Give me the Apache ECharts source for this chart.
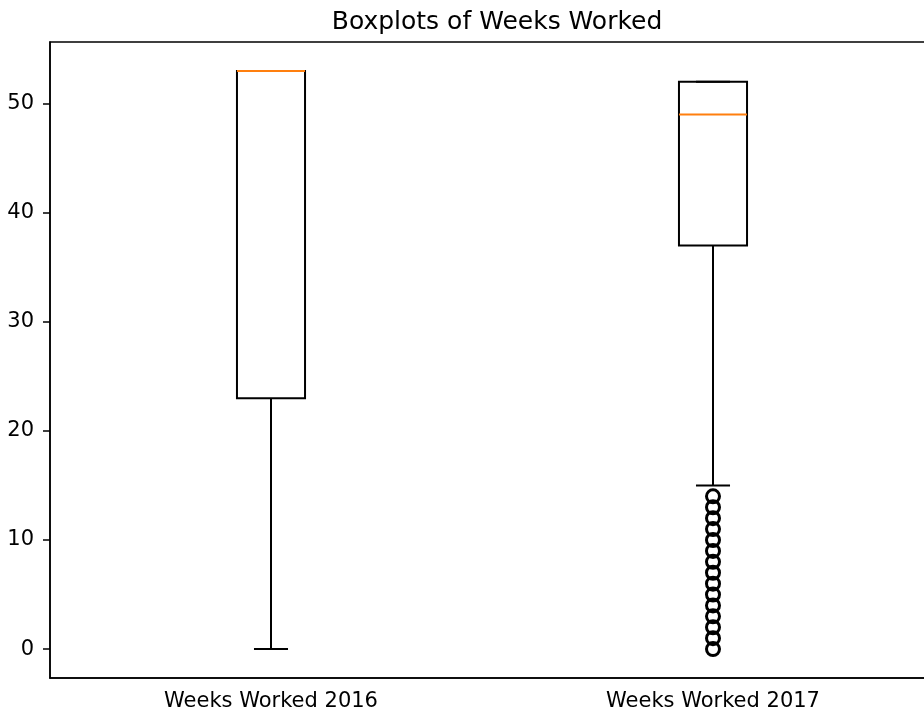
<!DOCTYPE html>
<html>
<head>
<meta charset="utf-8">
<script src="https://cdn.jsdelivr.net/npm/echarts@6/dist/echarts.min.js"></script>
<style>
  html, body { margin: 0; padding: 0; background: #fff; }
  #chart { width: 924px; height: 715px; }
</style>
</head>
<body>
<div id="chart"></div>
<script>
// box statistics
var categories = ['Weeks Worked 2016', 'Weeks Worked 2017'];
var whiskerLow = [0, 15];
var q1 = [23, 37];
var median = [53, 49];
var q3 = [53, 52];
var whiskerHigh = [53, 52];
// fliers of the 2017 box
var outliers2017 = [0, 1, 2, 3, 4, 5, 6, 7, 8, 9, 10, 11, 12, 13, 14];
var yTicks = [0, 10, 20, 30, 40, 50];

var boxData = categories.map(function (c, i) {
  return [i, whiskerLow[i], q1[i], median[i], q3[i], whiskerHigh[i]];
});
var flierData = outliers2017.map(function (v) { return [1, v]; });

function renderBox(params, api) {
  var idx = api.value(0);
  var band = api.size([1, 0])[0];
  var half = band * 0.077;
  var capHalf = half / 2;
  var pLow = api.coord([idx, api.value(1)]);
  var pQ1 = api.coord([idx, api.value(2)]);
  var pMed = api.coord([idx, api.value(3)]);
  var pQ3 = api.coord([idx, api.value(4)]);
  var pHigh = api.coord([idx, api.value(5)]);
  var x = pQ1[0];
  var line = { stroke: '#000', lineWidth: 2 };
  return {
    type: 'group',
    children: [
      { type: 'line', shape: { x1: x, y1: pLow[1], x2: x, y2: pQ1[1] }, style: line },
      { type: 'line', shape: { x1: x, y1: pQ3[1], x2: x, y2: pHigh[1] }, style: line },
      { type: 'line', shape: { x1: x - capHalf, y1: pLow[1], x2: x + capHalf, y2: pLow[1] }, style: line },
      { type: 'line', shape: { x1: x - capHalf, y1: pHigh[1], x2: x + capHalf, y2: pHigh[1] }, style: line },
      { type: 'rect', shape: { x: x - half, y: pQ3[1], width: half * 2, height: pQ1[1] - pQ3[1] },
        style: { fill: 'none', stroke: '#000', lineWidth: 2 } },
      { type: 'line', shape: { x1: x - half, y1: pMed[1], x2: x + half, y2: pMed[1] },
        style: { stroke: '#ff7f0e', lineWidth: 2 } }
    ]
  };
}

var chart = echarts.init(document.getElementById('chart'));
chart.setOption({
  animation: false,
  backgroundColor: '#fff',
  title: {
    text: 'Boxplots of Weeks Worked',
    left: 492,
    textAlign: 'center',
    top: 5,
    textStyle: { fontFamily: 'DejaVu Sans', fontSize: 25, fontWeight: 'normal', color: '#000' }
  },
  grid: {
    left: 50, top: 42, width: 884, height: 636,
    outerBoundsMode: 'none',
    containLabel: false,
    show: true, borderColor: '#000', borderWidth: 1.5, backgroundColor: 'transparent'
  },
  xAxis: {
    type: 'category',
    data: categories,
    boundaryGap: true,
    axisLine: { onZero: false, lineStyle: { color: '#000', width: 1.5 } },
    axisTick: { alignWithLabel: true, length: 7, lineStyle: { color: '#000', width: 1.5 } },
    axisLabel: { margin: 13, color: '#000', fontFamily: 'DejaVu Sans', fontSize: 21 },
    splitLine: { show: false }
  },
  yAxis: {
    type: 'value',
    min: -2.65,
    max: 55.65,
    axisLine: { show: true, lineStyle: { color: '#000', width: 1.5 } },
    axisTick: { show: true, length: 7, customValues: yTicks, lineStyle: { color: '#000', width: 1.5 } },
    axisLabel: { margin: 16, color: '#000', fontFamily: 'DejaVu Sans', fontSize: 21, customValues: yTicks },
    splitLine: { show: false }
  },
  series: [
    {
      type: 'custom',
      renderItem: renderBox,
      encode: { x: 0, y: [1, 2, 3, 4, 5] },
      data: boxData,
      z: 3
    },
    {
      type: 'scatter',
      data: flierData,
      symbol: 'circle',
      symbolSize: 13,
      itemStyle: { color: 'none', borderColor: '#000', borderWidth: 3, opacity: 1 },
      z: 4
    }
  ]
});
</script>
</body>
</html>
